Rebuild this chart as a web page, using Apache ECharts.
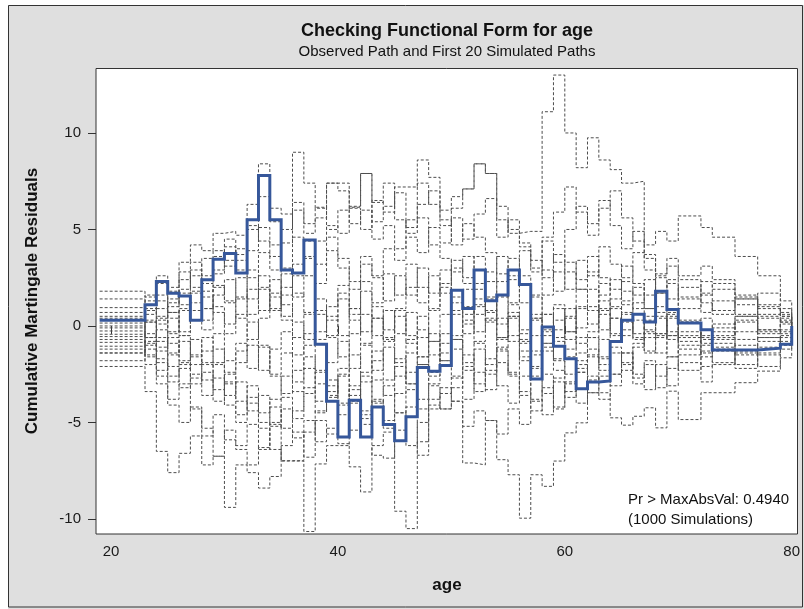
<!DOCTYPE html>
<html>
<head>
<meta charset="utf-8">
<script src="https://cdn.jsdelivr.net/npm/echarts@6/dist/echarts.min.js"></script>
<style>
html,body{margin:0;padding:0;background:#fff;}
#chart{width:804px;height:609px;}
</style>
</head>
<body>
<div id="chart"></div>
<script>
// ---- data ----
const ages = [19,23,24,25,26, 27,28,29,30,31, 32,33,34,35,36, 37,38,39,40,41, 42,43,44,45,46, 47,48,49,50,51, 52,53,54,55,56, 57,58,59,60,61, 62,63,64,65,66, 67,68,69,70,72, 73,75,77,79,80];

const observed = [0.3,1.1,2.3,1.7,1.55, 0.3,2.4,3.45,3.75,2.75, 5.5,7.8,5.5,2.9,2.75, 4.45,-0.95,-3.9,-5.75,-3.85, -5.75,-4.2,-5.1,-5.95,-4.7, -2.15,-2.35,-2.05,1.85,0.9, 2.9,1.3,1.6,2.9,2.15, -2.75,-0.05,-1.05,-1.7,-3.25, -2.9,-2.85,-0.8,0.3,0.6, 0.2,1.8,0.85,0.15,-0.2, -1.25,-1.25,-1.15,-0.95,0];

const sim01 = [1.8,1.5,2.6,2.0,3.3, 4.2,3.9,4.8,4.9,4.7, 6.3,8.4,6.1,5.8,9.0, 7.4,6.1,7.4,7.4,6.2, 7.9,6.4,7.4,5.5,4.8, 5.6,4.2,3.5,2.8,3.6, 2.2,1.5,0.4,-0.8,-1.6, -2.2,-0.9,-1.8,-2.5,-1.4, -0.6,0.8,1.4,2.3,1.6, 0.9,1.7,0.8,0.2,-0.5, -0.9,-1.4,-0.6,-0.3,0];
const sim02 = [1.4,0.9,1.6,0.7,1.9, 2.6,1.8,2.7,3.4,2.9, 3.9,5.1,4.2,3.0,4.6, 3.6,4.4,5.2,4.8,6.1, 5.0,6.5,5.9,7.2,7.2, 8.6,7.7,6.0,6.7,7.1, 8.4,7.9,5.5,4.8,4.9, 4.9,11.1,13.0,10.0,8.2, 9.75,8.6,8.1,7.4,7.5, 4.2,4.9,4.4,5.7,5.1, 4.6,3.6,2.6,1.3,0];
const sim03 = [-2.1,-3.4,-6.5,-7.6,-6.6, -5.7,-7.2,-6.75,-9.4,-7.2, -7.6,-8.4,-7.8,-6.2,-5.5, -6.8,-4.9,-5.6,-4.1,-3.3, -4.4,-2.8,-3.6,-2.1,-3.0, -1.6,-2.4,-0.9,0.6,-0.4, 1.1,0.3,-1.2,-0.5,-1.8, -2.6,-1.3,-0.2,0.9,-0.6, -1.5,-0.7,0.4,1.1,0.3, -0.4,0.5,-0.3,-1.0,-1.6, -1.2,-2.0,-1.1,-0.6,0];
const sim04 = [-1.8,-1.2,-2.6,-3.8,-3.0, -4.3,-5.7,-4.6,-5.9,-6.4, -7.2,-6.3,-5.1,-7.0,-7.0, -10.65,-7.15,-6.2,-6.2,-5.4, -4.6,-6.7,-6.85,-5.4,-4.2, -6.7,-4.3,-3.5,-2.6,-3.8, -2.4,-3.3,-1.9,-2.6,-3.6, -2.1,-3.5,-2.7,-1.6,-2.4, -1.2,-2.0,-0.8,0.2,-0.6, -1.3,-0.5,0.4,-0.3,-1.0, -0.7,-1.5,-0.8,-0.4,0];
const sim05 = [-1.4,-0.8,-1.9,-2.9,-2.2, -1.5,-2.8,-2.0,-3.6,-2.9, -4.4,-3.6,-5.2,-4.3,-5.8, -4.9,-6.0,-5.3,-6.1,-7.3, -8.6,-6.2,-5.5,-9.6,-10.5, -6.0,-4.1,-4.3,-3.9,-5.2, -4.4,-4.9,-6.93,-7.71,-9.96, -7.71,-8.31,-7.0,-5.54,-5.02, -3.46,-3.46,-4.76,-5.14,-4.68, -4.24,-5.28,-3.38,-4.85,-3.46, -3.46,-2.94,-2.34,-1.65,0];
const sim06 = [-1.05,-0.4,-1.3,-0.6,-2.0, -2.7,-1.9,-3.3,-2.5,-3.9, -3.1,-4.5,-3.8,-2.6,-3.4, -2.2,-3.9,-2.8,-4.0,-3.1, -4.8,-3.9,-5.3,-4.5,-6.2, -5.0,-3.8,-3.2,-3.9,-7.1, -7.2,-4.9,-5.6,-4.3,-5.1, -3.8,-4.6,-2.9,-3.7,-2.4, -1.6,-2.3,-1.1,-2.0,-0.9, 0.3,-0.6,0.5,-0.8,-0.2, -1.1,-0.3,0.6,0.2,0];
const sim07 = [0.95,1.3,0.5,1.2,2.4, 3.3,2.6,3.9,3.1,4.0, 5.2,4.4,3.6,5.0,6.4, 5.3,6.15,5.0,6.0,6.15, 7.9,5.4,6.2,6.9,5.1, 6.3,7.0,5.5,4.2,5.3, 4.6,3.8,2.7,3.5,2.1, 1.6,2.9,1.8,3.3,2.4, 3.6,2.5,1.9,3.1,2.2, 1.6,2.5,1.4,2.0,1.2, 0.8,1.5,0.9,0.6,0];
const sim08 = [0.7,1.6,2.2,1.4,2.8, 2.0,3.5,2.9,4.1,3.4, 2.5,3.8,2.9,1.6,2.6, 3.5,2.2,3.9,3.0,1.9, 3.2,2.6,4.0,3.4,4.6, 3.8,5.1,4.3,5.6,4.5, 5.8,6.6,4.6,5.5,4.3, 3.0,4.6,5.9,7.2,5.9, 4.7,6.1,7.0,5.6,4.4, 3.5,2.6,3.1,2.4,1.6, 2.2,1.4,0.5,0.9,0];
const sim09 = [0.5,0.2,-1.1,-0.3,0.8, 1.7,0.9,2.1,1.3,0.4, 1.9,0.8,2.4,1.1,0.2, -0.7,0.6,-0.5,1.4,0.3, -1.0,0.4,-0.8,0.9,2.0, 1.2,2.6,1.7,3.0,2.2, 3.6,2.8,1.5,2.4,1.2, 0.4,1.6,2.8,1.9,3.4, 2.6,4.1,3.2,2.5,3.8, 2.9,1.7,2.4,1.5,2.3, 1.9,1.1,1.7,0.7,0];
const sim10 = [0.4,-0.6,0.3,-0.9,-1.8, -0.7,-2.0,-1.2,-2.4,-1.3, 0.2,-1.1,-2.5,-1.4,-2.9, -1.6,-3.0,-1.9,-0.8,-2.2, -0.9,-2.3,-1.1,-2.6,-1.4, -0.2,-1.5,-0.4,1.2,0.1, 1.4,0.2,1.6,0.5,-0.7, 0.6,-0.5,0.9,-0.3,1.0, 0.1,1.3,0.4,1.8,0.9, -0.2,0.7,-0.5,0.3,-0.6, 0.1,-0.7,-0.2,0.4,0];
const sim11 = [0.15,0.8,0.1,1.0,1.7, 2.9,2.2,3.6,4.5,3.7, 5.0,6.7,5.4,4.3,6.0, 4.8,5.6,7.4,7.0,5.3, 6.0,4.5,5.2,4.0,5.5, 7.4,6.3,5.2,6.1,7.1, 8.4,7.9,6.2,5.0,4.1, 3.4,2.5,3.7,2.8,1.9, 2.8,1.6,2.4,1.3,2.0, 0.9,1.8,0.6,1.4,0.7, 1.3,0.6,1.1,0.5,0];
const sim12 = [0.0,-0.9,-1.7,-2.6,-1.9, -3.0,-2.4,-3.9,-2.9,-4.6, -3.7,-5.0,-4.2,-5.3,-4.4, -3.2,-4.5,-3.6,-2.5,-3.9, -2.6,-4.0,-3.1,-4.5,-3.3, -2.0,-3.0,-1.8,-0.7,-1.9, -0.8,0.4,-0.6,0.7,-0.4, -1.5,-0.3,-1.7,-0.7,-2.0, -2.8,-1.6,-2.5,-1.4,-2.7, -1.8,-2.6,-1.6,-2.3,-1.3, -1.9,-1.0,-1.5,-0.8,0];
const sim13 = [-0.1,0.6,1.3,0.4,-0.5, 0.8,-0.2,1.0,0.1,1.5, 0.6,1.9,0.9,2.7,1.5, 2.6,1.4,0.3,1.7,0.6, 1.8,0.4,-0.7,0.5,-0.9, -2.0,-0.8,-2.1,-1.2,0.3, -0.9,-2.0,-0.7,0.4,-0.9, 0.3,-1.1,-2.3,-3.4,-2.2, -3.46,-2.6,-1.4,-2.3,-1.1, -0.3,-1.4,-0.5,-1.5,-0.7, -0.1,0.5,-0.3,0.2,0];
const sim14 = [-0.26,-1.0,-0.2,0.7,-0.3, 1.2,0.3,1.6,2.4,1.4, 2.9,2.0,0.8,2.0,3.2, 4.4,3.2,4.6,3.5,2.3, 3.6,2.5,1.3,2.6,1.6, 3.0,1.7,2.9,1.5,0.6, 1.9,0.7,2.3,1.2,2.6, 1.5,0.6,-0.6,0.5,1.9, 0.8,2.2,1.0,-0.2,1.2, 2.4,1.0,2.2,0.9,1.7, 0.6,1.4,0.4,-0.2,0];
const sim15 = [-0.43,0.3,-0.6,-1.5,-0.8, -2.0,-1.3,-0.4,-1.8,-0.9, -2.2,-1.0,-2.6,-3.5,-2.3, -1.0,-2.3,-3.4,-2.2,-4.0, -5.1,-3.8,-4.9,-3.5,-2.4, -3.8,-2.6,-1.4,-2.7,-1.5, -3.0,-1.7,-3.1,-4.0,-2.6, -3.9,-2.5,-4.2,-3.0,-1.8, -0.6,-1.7,-3.1,-1.9,-3.0, -2.0,-3.2,-2.2,-1.2,-2.1, -1.3,-2.2,-1.4,-0.5,0];
const sim16 = [-0.55,0.2,0.9,1.8,1.1, 0.3,1.5,0.7,-0.4,0.6, -0.7,0.4,1.5,0.3,-0.6, 0.7,-0.3,1.0,2.1,0.9, 2.3,1.2,2.7,1.6,3.2, 2.0,0.8,2.2,3.4,2.5, 1.0,2.3,3.6,2.6,3.9, 2.8,4.4,3.3,5.0,6.2, 5.3,6.5,5.2,4.0,4.9, 3.7,2.7,3.5,2.6,3.1, 2.4,1.6,1.0,0.5,0];
const sim17 = [-0.7,-1.6,-0.8,-2.1,-3.2, -2.5,-3.6,-2.7,-4.1,-5.0, -4.0,-5.3,-6.4,-6.98,-6.98, -5.5,-4.4,-3.1,-4.6,-3.6, -2.4,-1.3,-2.8,-1.7,-3.0, -4.3,-3.1,-4.3,-3.2,-2.1, -3.4,-2.3,-1.1,-2.5,-1.3, -0.5,0.6,-0.8,0.4,-0.9, -0.3,0.9,-0.4,0.6,-0.7, 0.5,-0.4,0.7,-0.6,0.4, -0.5,0.3,-0.4,0.1,0];
const sim18 = [-0.85,-1.5,-2.3,-1.4,-0.5, -1.6,-0.6,-1.9,-3.0,-1.9, -1.0,-2.3,-1.2,-0.3,-1.5, -0.4,0.8,-0.6,-1.6,-0.4, 0.6,-0.5,0.8,-0.4,0.7, -0.6,0.9,2.0,0.8,1.9, 0.6,1.4,0.1,1.1,-0.2, -1.3,-0.2,1.1,-0.3,0.9, 1.9,0.6,-0.5,0.7,-0.4, -1.4,-0.4,-1.6,-0.5,-1.4, -0.6,0.2,-0.6,-1.0,0];
const sim19 = [-1.2,-2.0,-3.0,-4.1,-5.0, -4.2,-5.3,-6.75,-5.4,-6.2, -5.1,-6.4,-5.0,-3.7,-4.8, -3.5,-2.4,-3.7,-2.6,-1.5, -2.9,-1.8,-0.6,-1.9,-0.7, 0.5,-0.8,0.6,-0.5,1.0, -0.3,0.8,-0.6,0.5,-0.8, 0.4,-0.9,0.3,-1.2,-0.1, 1.0,-0.2,0.9,-0.5,0.6, -0.6,0.4,-0.7,0.2,-0.9, -0.3,0.5,-0.2,0.3,0];
const sim20 = [-1.4,-0.6,0.4,-0.4,0.9, 1.8,0.9,2.0,1.2,2.5, 1.4,2.6,1.7,0.5,1.7, 0.6,-0.7,0.5,-0.5,0.9, -0.3,1.0,-0.2,0.8,-0.5, -1.6,-0.4,-1.8,-0.7,-2.3, -1.2,-2.5,-1.3,-2.4,-3.4, -4.4,-3.2,-4.3,-2.9,-4.0, -2.6,-3.8,-2.5,-1.4,-2.5, -3.3,-2.0,-3.1,-1.9,-2.9, -2.0,-1.3,-2.1,-1.2,0];

const xTicks = [20, 40, 60, 80];
const yTicks = [-10, -5, 0, 5, 10];

const titleText = 'Checking Functional Form for age';
const subtitleText = 'Observed Path and First 20 Simulated Paths';
const xName = 'age';
const yName = 'Cumulative Martingale Residuals';
const noteLines = ['Pr > MaxAbsVal: 0.4940', '(1000 Simulations)'];

// ---- chart ----
const simulated = [sim01,sim02,sim03,sim04,sim05,sim06,sim07,sim08,sim09,sim10,
                   sim11,sim12,sim13,sim14,sim15,sim16,sim17,sim18,sim19,sim20];

const FONT = '"Liberation Sans", Arial, Helvetica, sans-serif';

const series = simulated.map((vals, k) => ({
  name: 'sim' + (k + 1),
  type: 'line',
  step: 'end',
  symbol: 'none',
  silent: true,
  z: 2,
  data: ages.map((a, i) => [a, vals[i]]),
  lineStyle: { color: '#4d4d4d', width: 1, type: [3, 2] }
}));
series.push({
  name: 'observed',
  type: 'line',
  step: 'end',
  symbol: 'none',
  silent: true,
  z: 5,
  data: ages.map((a, i) => [a, observed[i]]),
  lineStyle: { color: '#36579a', width: 3, type: 'solid', join: 'miter' }
});

const chart = echarts.init(document.getElementById('chart'), null, { renderer: 'canvas' });
chart.setOption({
  animation: false,
  backgroundColor: '#dfdfdf',
  textStyle: { fontFamily: FONT },
  grid: {
    left: 96, right: 6.5, top: 68.5, bottom: 75,
    show: true, backgroundColor: '#ffffff', borderColor: '#333333', borderWidth: 1
  },
  xAxis: {
    type: 'value', min: 18.68, max: 80.51,
    splitLine: { show: false },
    axisLine: { show: false },
    axisTick: { show: true, inside: false, length: 8, customValues: xTicks, lineStyle: { color: '#333' } },
    axisLabel: { show: true, customValues: xTicks, margin: 10, fontSize: 15, color: '#1a1a1a', fontFamily: FONT }
  },
  yAxis: {
    type: 'value', min: -10.78, max: 13.34,
    splitLine: { show: false },
    axisLine: { show: false },
    axisTick: { show: true, inside: false, length: 8, customValues: yTicks, lineStyle: { color: '#333' } },
    axisLabel: { show: true, customValues: yTicks, margin: 15, fontSize: 15, color: '#1a1a1a', fontFamily: FONT }
  },
  series: series,
  graphic: [
    { type: 'rect', silent: true, shape: { x: 0, y: 0, width: 804, height: 5 }, style: { fill: '#ffffff' } },
    { type: 'rect', silent: true, shape: { x: 0, y: 0, width: 8, height: 609 }, style: { fill: '#ffffff' } },
    { type: 'rect', silent: true, shape: { x: 8.5, y: 5.5, width: 794, height: 601.5 }, style: { fill: null, stroke: '#333333', lineWidth: 1 } },
    { type: 'text', silent: true, x: 447, y: 31, style: { text: titleText, font: 'bold 18px ' + FONT, fill: '#111', textAlign: 'center', textVerticalAlign: 'middle' } },
    { type: 'text', silent: true, x: 447, y: 51.5, style: { text: subtitleText, font: '15px ' + FONT, fill: '#111', textAlign: 'center', textVerticalAlign: 'middle' } },
    { type: 'text', silent: true, x: 447, y: 585, style: { text: xName, font: 'bold 17px ' + FONT, fill: '#111', textAlign: 'center', textVerticalAlign: 'middle' } },
    { type: 'text', silent: true, x: 32, y: 301, rotation: Math.PI / 2, style: { text: yName, font: 'bold 17px ' + FONT, fill: '#111', textAlign: 'center', textVerticalAlign: 'middle' } },
    { type: 'text', silent: true, x: 628, y: 500, style: { text: noteLines[0], font: '15px ' + FONT, fill: '#111', textAlign: 'left', textVerticalAlign: 'middle' } },
    { type: 'text', silent: true, x: 628, y: 520, style: { text: noteLines[1], font: '15px ' + FONT, fill: '#111', textAlign: 'left', textVerticalAlign: 'middle' } }
  ]
});
</script>
</body>
</html>
